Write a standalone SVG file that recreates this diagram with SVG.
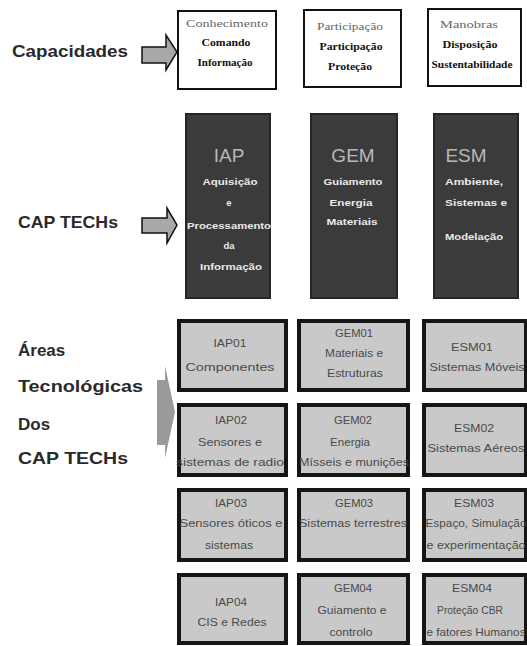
<svg xmlns="http://www.w3.org/2000/svg" width="527" height="646" viewBox="0 0 527 646">
<style>
.lbl{font-family:"Liberation Sans",Arial,sans-serif;font-weight:bold;font-size:17px;fill:#2a2a2a}
.cap{fill:#fff;stroke:#111;stroke-width:2}
.capt{font-family:"Liberation Serif","Times New Roman",serif;font-size:9.5px;text-anchor:middle}
.c1{fill:#666}
.c2{fill:#111;font-weight:bold}
.tech{fill:#3b3b3b;stroke:#262626;stroke-width:2}
.th{font-family:"Liberation Sans",Arial,sans-serif;font-size:19px;fill:#b8b8b8;text-anchor:middle}
.ts{font-family:"Liberation Sans",Arial,sans-serif;font-size:9.5px;fill:#eaeaea;text-anchor:middle;font-weight:bold}
.area{fill:#c9c9c9;stroke:#151515;stroke-width:4}
.at{font-family:"Liberation Sans",Arial,sans-serif;font-size:10.5px;fill:#4a4a4a;text-anchor:middle}
.arr{fill:#a8a8a8;stroke:#111;stroke-width:1.5}
</style>
<rect width="527" height="646" fill="#fff"/>
<g id="labels">
<text class="lbl" x="12" y="57" textLength="116" lengthAdjust="spacingAndGlyphs">Capacidades</text>
<text class="lbl" x="18" y="228" textLength="100" lengthAdjust="spacingAndGlyphs">CAP TECHs</text>
<text class="lbl" x="18" y="356">Áreas</text>
<text class="lbl" x="18" y="392" textLength="125" lengthAdjust="spacingAndGlyphs">Tecnológicas</text>
<text class="lbl" x="18" y="430">Dos</text>
<text class="lbl" x="18" y="464" textLength="110" lengthAdjust="spacingAndGlyphs">CAP TECHs</text>
</g>
<g id="connectors">
<polygon class="arr" points="142,47 166,47 166,35 177,52 166,70 166,63 142,63"/>
<polygon class="arr" points="142,218 167,218 167,208 177,225 167,243 167,233 142,233"/>
<polygon fill="#9a9a9a" points="157,380 165,380 165,366 175,412 165,458 165,445 157,445"/>
</g>
<g id="cap1"><rect class="cap" x="178" y="11" width="98" height="78"/>
<text class="capt c1" x="227" y="27" textLength="82" lengthAdjust="spacingAndGlyphs">Conhecimento</text>
<text class="capt c2" x="226" y="46" textLength="49" lengthAdjust="spacingAndGlyphs">Comando</text>
<text class="capt c2" x="225" y="66" textLength="55" lengthAdjust="spacingAndGlyphs">Informação</text></g>
<g id="cap2"><rect class="cap" x="304" y="10" width="97" height="77"/>
<text class="capt c1" x="350" y="30" textLength="66" lengthAdjust="spacingAndGlyphs">Participação</text>
<text class="capt c2" x="351" y="50" textLength="63" lengthAdjust="spacingAndGlyphs">Participação</text>
<text class="capt c2" x="350" y="70" textLength="44" lengthAdjust="spacingAndGlyphs">Proteção</text></g>
<g id="cap3"><rect class="cap" x="428" y="9" width="93" height="77"/>
<text class="capt c1" x="469" y="28" textLength="58" lengthAdjust="spacingAndGlyphs">Manobras</text>
<text class="capt c2" x="470" y="48" textLength="55" lengthAdjust="spacingAndGlyphs">Disposição</text>
<text class="capt c2" x="472" y="68" textLength="81" lengthAdjust="spacingAndGlyphs">Sustentabilidade</text></g>
<g id="IAP"><rect class="tech" x="186" y="114" width="84" height="184"/>
<text class="th" x="229" y="162">IAP</text>
<text class="ts" x="230" y="185" textLength="55" lengthAdjust="spacingAndGlyphs">Aquisição</text>
<text class="ts" x="229" y="206">e</text>
<text class="ts" x="229" y="229" textLength="84" lengthAdjust="spacingAndGlyphs">Processamento</text>
<text class="ts" x="229" y="249">da</text>
<text class="ts" x="231" y="270" textLength="62" lengthAdjust="spacingAndGlyphs">Informação</text></g>
<g id="GEM"><rect class="tech" x="311" y="114" width="86" height="184"/>
<text class="th" x="353" y="162">GEM</text>
<text class="ts" x="353" y="185" textLength="59" lengthAdjust="spacingAndGlyphs">Guiamento</text>
<text class="ts" x="351" y="206" textLength="43" lengthAdjust="spacingAndGlyphs">Energia</text>
<text class="ts" x="352" y="225" textLength="51" lengthAdjust="spacingAndGlyphs">Materiais</text></g>
<g id="ESM"><rect class="tech" x="434" y="114" width="84" height="184"/>
<text class="th" x="466" y="162">ESM</text>
<text class="ts" x="474" y="185" textLength="58" lengthAdjust="spacingAndGlyphs">Ambiente,</text>
<text class="ts" x="476" y="206" textLength="62" lengthAdjust="spacingAndGlyphs">Sistemas e</text>
<text class="ts" x="474" y="240" textLength="58" lengthAdjust="spacingAndGlyphs">Modelação</text></g>
<g id="IAP01"><rect class="area" x="179" y="321" width="107" height="69"/>
<text class="at" x="230" y="347" textLength="33" lengthAdjust="spacingAndGlyphs">IAP01</text>
<text class="at" x="230" y="371" textLength="89" lengthAdjust="spacingAndGlyphs">Componentes</text></g>
<g id="GEM01"><rect class="area" x="299" y="321" width="109" height="69"/>
<text class="at" x="354" y="337" textLength="38" lengthAdjust="spacingAndGlyphs">GEM01</text>
<text class="at" x="354" y="357" textLength="58" lengthAdjust="spacingAndGlyphs">Materiais e</text>
<text class="at" x="355" y="377" textLength="56" lengthAdjust="spacingAndGlyphs">Estruturas</text></g>
<g id="ESM01"><rect class="area" x="424" y="321" width="102" height="69"/>
<text class="at" x="472" y="351" textLength="42" lengthAdjust="spacingAndGlyphs">ESM01</text>
<text class="at" x="477" y="371" textLength="95" lengthAdjust="spacingAndGlyphs">Sistemas Móveis</text></g>
<g id="IAP02"><rect class="area" x="179" y="405" width="107" height="70"/>
<text class="at" x="231" y="424" textLength="32" lengthAdjust="spacingAndGlyphs">IAP02</text>
<text class="at" x="230" y="446" textLength="64" lengthAdjust="spacingAndGlyphs">Sensores e</text>
<text class="at" x="230" y="466" textLength="108" lengthAdjust="spacingAndGlyphs">sistemas de radio</text></g>
<g id="GEM02"><rect class="area" x="299" y="405" width="109" height="70"/>
<text class="at" x="353" y="424" textLength="38" lengthAdjust="spacingAndGlyphs">GEM02</text>
<text class="at" x="350" y="446" textLength="40" lengthAdjust="spacingAndGlyphs">Energia</text>
<text class="at" x="354" y="466" textLength="110" lengthAdjust="spacingAndGlyphs">Mísseis e munições</text></g>
<g id="ESM02"><rect class="area" x="424" y="405" width="102" height="70"/>
<text class="at" x="474" y="432" textLength="40" lengthAdjust="spacingAndGlyphs">ESM02</text>
<text class="at" x="476" y="452" textLength="97" lengthAdjust="spacingAndGlyphs">Sistemas Aéreos</text></g>
<g id="IAP03"><rect class="area" x="179" y="490" width="107" height="70"/>
<text class="at" x="231" y="507" textLength="32" lengthAdjust="spacingAndGlyphs">IAP03</text>
<text class="at" x="231" y="527" textLength="103" lengthAdjust="spacingAndGlyphs">Sensores óticos e</text>
<text class="at" x="229" y="549" textLength="48" lengthAdjust="spacingAndGlyphs">sistemas</text></g>
<g id="GEM03"><rect class="area" x="299" y="490" width="109" height="70"/>
<text class="at" x="354" y="507" textLength="38" lengthAdjust="spacingAndGlyphs">GEM03</text>
<text class="at" x="353" y="527" textLength="108" lengthAdjust="spacingAndGlyphs">Sistemas terrestres</text></g>
<g id="ESM03"><rect class="area" x="424" y="490" width="102" height="70"/>
<text class="at" x="474" y="507" textLength="40" lengthAdjust="spacingAndGlyphs">ESM03</text>
<text class="at" x="476" y="527" textLength="101" lengthAdjust="spacingAndGlyphs">Espaço, Simulação</text>
<text class="at" x="476" y="549" textLength="99" lengthAdjust="spacingAndGlyphs">e experimentação</text></g>
<g id="IAP04"><rect class="area" x="179" y="575" width="107" height="68"/>
<text class="at" x="231" y="606" textLength="32" lengthAdjust="spacingAndGlyphs">IAP04</text>
<text class="at" x="232" y="626" textLength="69" lengthAdjust="spacingAndGlyphs">CIS e Redes</text></g>
<g id="GEM04"><rect class="area" x="299" y="575" width="109" height="68"/>
<text class="at" x="353" y="592" textLength="38" lengthAdjust="spacingAndGlyphs">GEM04</text>
<text class="at" x="352" y="614" textLength="69" lengthAdjust="spacingAndGlyphs">Guiamento e</text>
<text class="at" x="351" y="636" textLength="43" lengthAdjust="spacingAndGlyphs">controlo</text></g>
<g id="ESM04"><rect class="area" x="424" y="575" width="102" height="68"/>
<text class="at" x="472" y="592" textLength="40" lengthAdjust="spacingAndGlyphs">ESM04</text>
<text class="at" x="470" y="614" textLength="66" lengthAdjust="spacingAndGlyphs">Proteção CBR</text>
<text class="at" x="476" y="636" textLength="99" lengthAdjust="spacingAndGlyphs">e fatores Humanos</text></g>
</svg>
